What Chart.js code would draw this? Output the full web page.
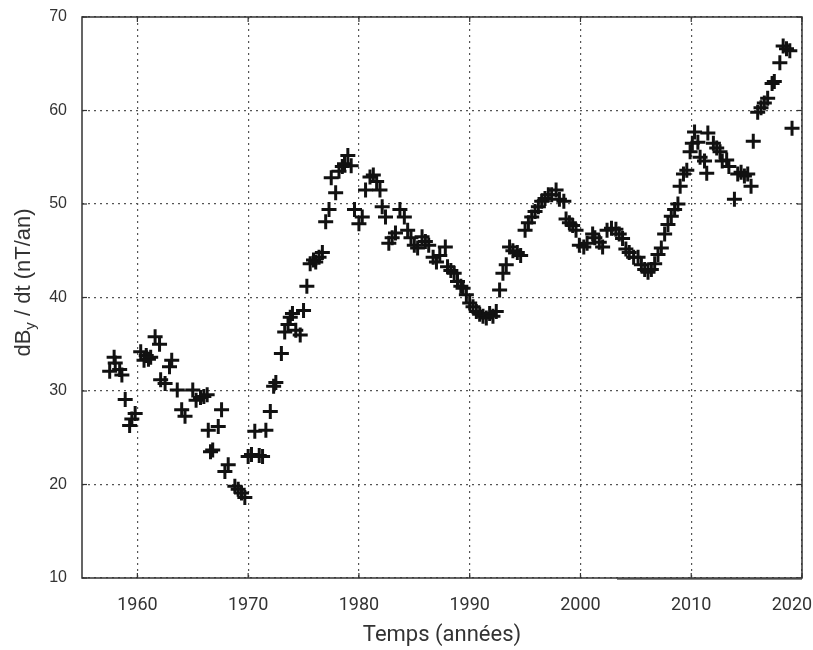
<!DOCTYPE html>
<html lang="fr">
<head>
<meta charset="utf-8">
<title>dBy/dt</title>
<script src="https://cdn.jsdelivr.net/npm/chart.js@4.4.1/dist/chart.umd.min.js"></script>
<style>
  html, body { margin: 0; padding: 0; background: #fff; }
  #wrap { width: 813px; height: 650px; }
</style>
</head>
<body>
<div id="wrap"><canvas id="graf"></canvas></div>
<script>
// Données
const annees = [
  1957.5, 1957.9, 1958.0, 1958.4, 1958.6, 1958.9, 1959.3, 1959.5, 1959.8,
  1960.3, 1960.6, 1960.8, 1961.0, 1961.2, 1961.6, 1962.0, 1962.1, 1962.5, 1962.9,
  1963.1, 1963.6, 1964.0, 1964.3, 1965.0, 1965.3, 1965.7, 1966.0, 1966.3, 1966.4,
  1966.6, 1966.8, 1967.3, 1967.6, 1967.9, 1968.2, 1968.8, 1969.1, 1969.4, 1969.7,
  1970.0, 1970.3, 1970.6, 1971.0, 1971.3, 1971.6, 1972.0, 1972.3, 1972.5,
  1973.0, 1973.3, 1973.6, 1973.8, 1974.0, 1974.3, 1974.7, 1975.0, 1975.3,
  1975.6, 1975.9, 1976.1, 1976.4, 1976.7, 1977.0, 1977.3, 1977.5, 1977.9,
  1978.2, 1978.5, 1978.7, 1979.0, 1979.3, 1979.6, 1980.0, 1980.3, 1980.6,
  1981.0, 1981.3, 1981.6, 1981.9, 1982.1, 1982.4, 1982.7, 1983.0, 1983.3,
  1983.7, 1984.1, 1984.4, 1984.7, 1985.0, 1985.3, 1985.7, 1986.0, 1986.3,
  1986.7, 1987.0, 1987.3, 1987.8, 1988.0, 1988.3, 1988.6, 1988.9, 1989.2,
  1989.4, 1989.7, 1990.0, 1990.3, 1990.6, 1990.9, 1991.2, 1991.5, 1991.8,
  1992.1, 1992.4, 1992.7, 1993.0, 1993.3, 1993.6, 1993.9, 1994.3, 1994.6,
  1995.0, 1995.3, 1995.6, 1995.9, 1996.2, 1996.5, 1996.8, 1997.1, 1997.4,
  1997.8, 1998.1, 1998.5, 1998.7, 1999.0, 1999.3, 1999.6, 1999.9, 2000.3,
  2000.6, 2001.1, 2001.3, 2001.7, 2002.0, 2002.4, 2002.8, 2003.2, 2003.5,
  2003.8, 2004.1, 2004.4, 2004.8, 2005.2, 2005.5, 2005.8, 2006.1, 2006.4,
  2006.7, 2007.0, 2007.3, 2007.6, 2007.9, 2008.2, 2008.5, 2008.8, 2009.0,
  2009.3, 2009.6, 2009.9, 2010.1, 2010.3, 2010.6, 2010.8, 2011.2, 2011.4,
  2011.5, 2012.0, 2012.3, 2012.6, 2012.8, 2013.2, 2013.4, 2013.9, 2014.2,
  2014.5, 2014.8, 2015.1, 2015.4, 2015.6, 2016.0, 2016.3, 2016.6, 2016.9,
  2017.3, 2017.5, 2018.0, 2018.3, 2018.6, 2018.9, 2019.1
];
const valeurs = [
  32.1, 33.6, 33.0, 32.3, 31.7, 29.1, 26.3, 27.0, 27.6,
  34.2, 33.3, 33.8, 33.4, 33.6, 35.8, 35.0, 31.2, 30.8, 32.6,
  33.3, 30.1, 28.0, 27.3, 30.1, 29.0, 29.3, 29.4, 29.6, 25.8,
  23.5, 23.7, 26.2, 28.0, 21.4, 22.1, 19.8, 19.5, 19.1, 18.6,
  23.0, 23.2, 25.7, 23.1, 23.0, 25.8, 27.8, 30.5, 30.9,
  34.0, 36.3, 37.1, 37.9, 38.3, 36.5, 36.0, 38.6, 41.2,
  43.6, 44.0, 43.8, 44.3, 44.8, 48.1, 49.4, 52.8, 51.2,
  53.5, 54.0, 54.3, 55.2, 54.1, 49.4, 47.9, 48.6, 51.5,
  52.9, 53.1, 52.4, 51.5, 49.7, 48.6, 45.8, 46.4, 46.9,
  49.4, 48.6, 47.2, 46.4, 45.6, 45.3, 46.5, 46.0, 45.6,
  44.3, 43.8, 44.5, 45.4, 43.3, 42.9, 42.6, 41.7, 41.2,
  41.0, 40.3, 39.4, 39.0, 38.5, 38.2, 38.0, 37.8, 38.3,
  38.0, 38.5, 40.8, 42.6, 43.5, 45.4, 45.0, 44.8, 44.5,
  47.2, 48.0, 48.6, 49.2, 49.7, 50.3, 50.6, 51.0, 51.0,
  51.5, 50.5, 50.3, 48.4, 48.0, 47.7, 47.2, 45.6, 45.4,
  45.8, 46.8, 46.4, 45.9, 45.4, 47.2, 47.4, 47.3, 46.8,
  46.3, 45.2, 44.8, 44.3, 44.3, 43.5, 43.0, 42.7, 43.0,
  43.6, 44.6, 45.3, 46.8, 47.8, 48.7, 49.4, 50.0, 51.9,
  53.2, 53.6, 55.6, 56.5, 57.7, 56.6, 55.0, 54.6, 53.3,
  57.6, 56.5, 56.0, 55.6, 54.6, 54.7, 54.0, 50.5, 53.2,
  53.4, 53.0, 53.2, 51.9, 56.7, 59.8, 60.3, 60.8, 61.3,
  62.9, 63.1, 65.1, 66.9, 66.6, 66.4, 58.1
];
const ticksX = [1960, 1970, 1980, 1990, 2000, 2010, 2020];
const ticksY = [10, 20, 30, 40, 50, 60, 70];
const titreX = 'Temps (années)';
const titreY = ['dB', 'y', ' / dt (nT/an)'];

// Cadre, graduations internes et titres des axes (avec indice)
const cadre = {
  id: 'cadre',
  afterDraw(chart) {
    const { ctx, chartArea: a, scales } = chart;
    ctx.save();
    ctx.strokeStyle = '#333';
    ctx.lineWidth = 1.2;
    const trait = (x1, y1, x2, y2) => { ctx.beginPath(); ctx.moveTo(x1, y1); ctx.lineTo(x2, y2); ctx.stroke(); };
    ticksX.forEach(v => {
      const x = scales.x.getPixelForValue(v);
      trait(x, a.bottom, x, a.bottom - 5);
      trait(x, a.top, x, a.top + 5);
    });
    ticksY.forEach(v => {
      const y = scales.y.getPixelForValue(v);
      trait(a.left, y, a.left + 5, y);
      trait(a.right, y, a.right - 5, y);
    });
    // trait plus épais en bas à droite (présent sur l'original)
    ctx.strokeStyle = '#888';
    ctx.lineWidth = 2;
    trait(scales.x.getPixelForValue(2003.3), a.bottom + 1, a.right, a.bottom + 1);

    ctx.strokeStyle = '#333';
    ctx.lineWidth = 1.5;
    ctx.strokeRect(a.left, a.top, a.width, a.height);

    // titre X
    ctx.fillStyle = '#333';
    ctx.font = '22px Roboto';
    ctx.textAlign = 'center';
    ctx.textBaseline = 'middle';
    ctx.fillText(titreX, (a.left + a.right) / 2, a.bottom + 57);

    // titre Y avec indice
    const grand = '22px "Liberation Sans"';
    const petit = '15px "Liberation Sans"';
    ctx.font = grand; const w1 = ctx.measureText(titreY[0]).width;
    ctx.font = petit; const w2 = ctx.measureText(titreY[1]).width;
    ctx.font = grand; const w3 = ctx.measureText(titreY[2]).width;
    const total = w1 + w2 + w3;
    ctx.translate(22, (a.top + a.bottom) / 2 - 15);
    ctx.rotate(-Math.PI / 2);
    ctx.textAlign = 'left';
    ctx.textBaseline = 'alphabetic';
    let x0 = -total / 2;
    ctx.font = grand; ctx.fillText(titreY[0], x0, 8);
    ctx.font = petit; ctx.fillText(titreY[1], x0 + w1, 13);
    ctx.font = grand; ctx.fillText(titreY[2], x0 + w1 + w2, 8);
    ctx.restore();
  }
};

document.addEventListener('DOMContentLoaded', () => {
  const points = annees.map((a, i) => ({ x: a, y: valeurs[i] }));

  new Chart(document.getElementById('graf'), {
    type: 'scatter',
    data: {
      datasets: [{
        data: points,
        pointStyle: 'cross',
        pointRadius: 7.5,
        pointHoverRadius: 7.5,
        pointBorderWidth: 3,
        borderColor: '#111',
        backgroundColor: '#111'
      }]
    },
    options: {
      responsive: true,
      maintainAspectRatio: false,
      devicePixelRatio: 1,
      animation: false,
      layout: { padding: { top: 17, right: 11, left: 0, bottom: 0 } },
      plugins: { legend: { display: false }, tooltip: { enabled: false } },
      scales: {
        x: {
          type: 'linear',
          min: 1955, max: 2020,
          afterBuildTicks: s => { s.ticks = ticksX.map(v => ({ value: v })); },
          afterFit: s => { s.height = 72; s.paddingLeft = 0; s.paddingRight = 0; },
          grid: { color: '#555', lineWidth: 1.2, drawTicks: false },
          border: { display: false, dash: [2, 4] },
          ticks: {
            color: '#333', font: { family: 'Roboto', size: 18 }, padding: 17, maxRotation: 0,
            // la dernière étiquette est un peu décalée vers la gauche pour rester dans l'image
            callback: v => v === 2020 ? String(v) + '\u2007\u2007' : String(v)
          }
        },
        y: {
          min: 10, max: 70,
          afterBuildTicks: s => { s.ticks = ticksY.map(v => ({ value: v })); },
          afterFit: s => { s.width = 82; s.paddingTop = 0; s.paddingBottom = 0; },
          grid: { color: '#555', lineWidth: 1.2, drawTicks: false },
          border: { display: false, dash: [2, 4] },
          ticks: { color: '#333', font: { family: 'Liberation Sans', size: 16 }, padding: 15, callback: v => String(v) }
        }
      }
    },
    plugins: [cadre]
  });
});
</script>
</body>
</html>
